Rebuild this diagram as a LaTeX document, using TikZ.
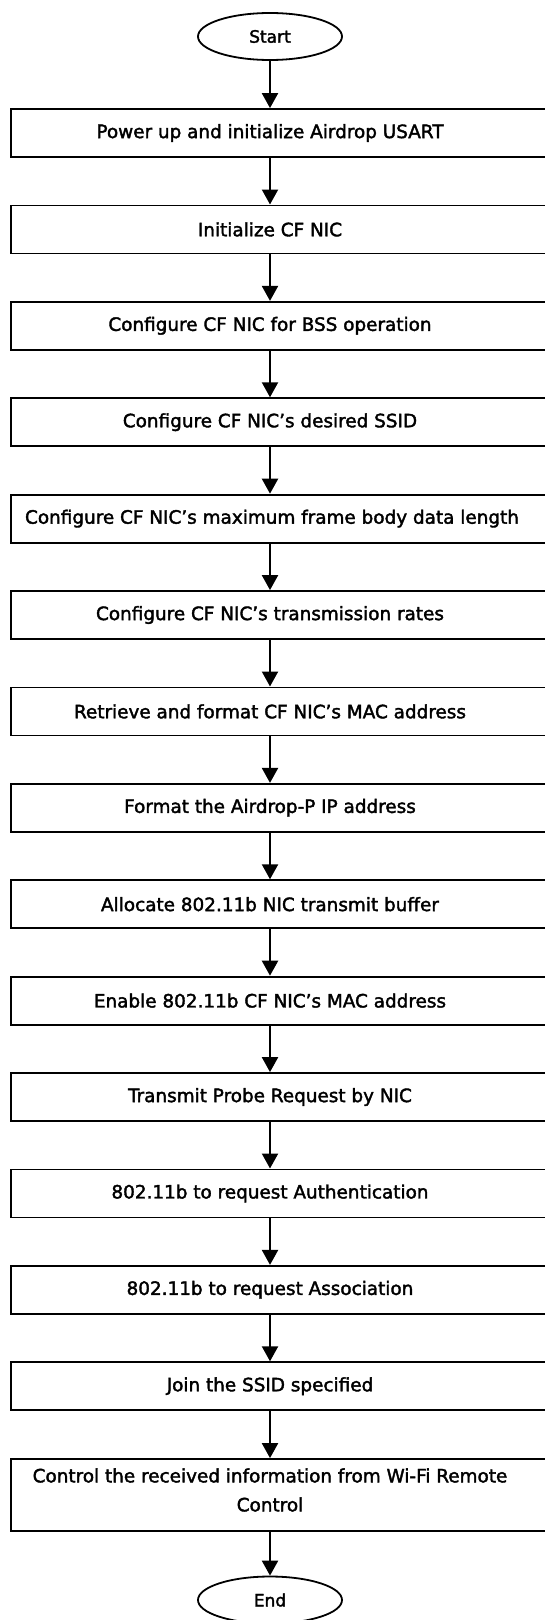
\documentclass[tikz,border=0pt]{standalone}
\usepackage{fontspec}
\setmainfont{DejaVu Sans}[FakeBold=2]
\usetikzlibrary{arrows.meta,shapes.geometric}
\begin{document}
\begin{tikzpicture}[x=1bp,y=-1bp,
  every node/.style={font=\fontsize{18.4bp}{29bp}\selectfont},
  stepbox/.style={draw, rectangle, line width=1.8bp, minimum width=540bp,
    minimum height=48bp, inner sep=0pt},
  steptext/.style={inner sep=0pt, align=center},
  terminal/.style={draw, ellipse, line width=1.8bp, minimum width=144bp,
    minimum height=47bp, inner sep=0pt, font=\fontsize{17bp}{20bp}\selectfont},
  flow/.style={line width=2.2bp, -{Triangle[width=16bp,length=15bp]}}
]
\useasboundingbox (0,0) rectangle (545,1620);
\clip (0,0) rectangle (545,1620);

% terminals
\node[terminal] (start) at (270,36.5) {Start};
\node[terminal] (end)   at (270,1600) {End};

% process steps (frames run past the right margin), pitch 96.4
\foreach \n/\y in {1/133.0,2/229.4,3/325.8,4/422.2,5/518.6,6/615.0,7/711.4,
                   8/807.8,9/904.2,10/1000.6,11/1097.0,12/1193.4,13/1289.8,
                   14/1386.2}
  \node[stepbox] (s\n) at (281,\y) {};
\node[stepbox, minimum height=72bp] (s15) at (281,1495.0) {};

% step captions, centred on the spine
\node[steptext] (t1)  at (s1.center  -| start) {Power up and initialize Airdrop USART};
\node[steptext] (t2)  at (s2.center  -| start) {Initialize CF NIC};
\node[steptext] (t3)  at (s3.center  -| start) {Configure CF NIC for BSS operation};
\node[steptext] (t4)  at (s4.center  -| start) {Configure CF NIC’s desired SSID};
\node[steptext] (t5)  at ([xshift=2bp]s5.center -| start) {Configure CF NIC’s maximum frame body data length};
\node[steptext] (t6)  at (s6.center  -| start) {Configure CF NIC’s transmission rates};
\node[steptext] (t7)  at (s7.center  -| start) {Retrieve and format CF NIC’s MAC address};
\node[steptext] (t8)  at (s8.center  -| start) {Format the Airdrop-P IP address};
\node[steptext] (t9)  at (s9.center  -| start) {Allocate 802.11b NIC transmit buffer};
\node[steptext] (t10) at (s10.center -| start) {Enable 802.11b CF NIC’s MAC address};
\node[steptext] (t11) at (s11.center -| start) {Transmit Probe Request by NIC};
\node[steptext] (t12) at (s12.center -| start) {802.11b to request Authentication};
\node[steptext] (t13) at (s13.center -| start) {802.11b to request Association};
\node[steptext] (t14) at (s14.center -| start) {Join the SSID specified};
\node[steptext] (t15) at ([yshift=5bp]s15.center -| start)
  {Control the received information from Wi-Fi Remote\\Control};

% connectors along the spine under the terminals
\draw[flow] (start.south) -- (s1.north -| start.south);
\foreach \a/\b in {s1/s2,s2/s3,s3/s4,s4/s5,s5/s6,s6/s7,s7/s8,s8/s9,
                   s9/s10,s10/s11,s11/s12,s12/s13,s13/s14,s14/s15}
  \draw[flow] (\a.south -| start.south) -- (\b.north -| start.south);
\draw[flow] (s15.south -| end.north) -- (end.north);
\end{tikzpicture}
\end{document}
